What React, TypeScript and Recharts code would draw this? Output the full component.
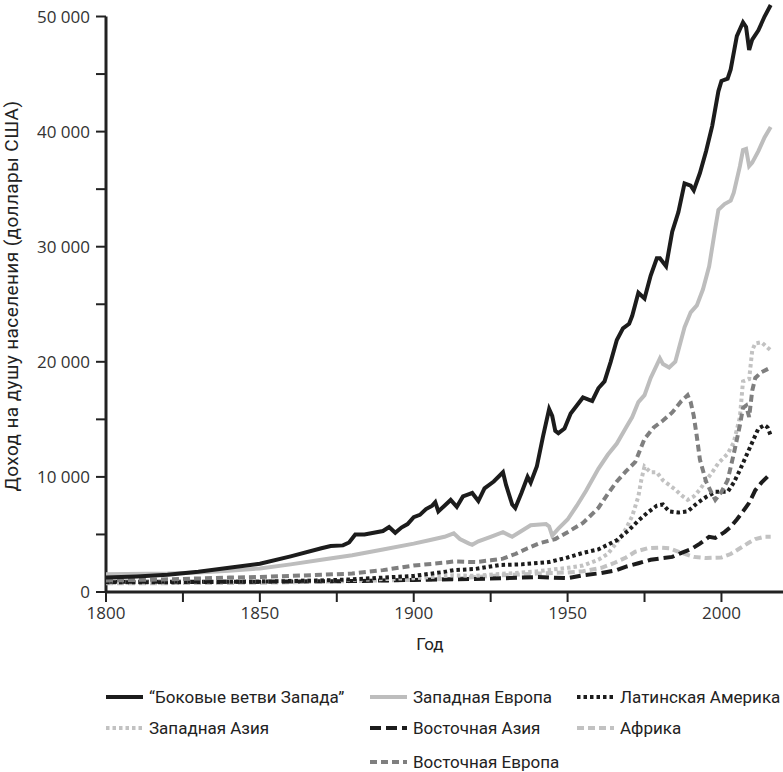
import { LineChart, Line, XAxis, YAxis, ReferenceLine } from "recharts";

type Pair = [number, number];

const offshoots: Pair[] = [
  [1800, 1250], [1810, 1350], [1820, 1500], [1830, 1750], [1840, 2100], [1850, 2450],
  [1860, 3100], [1870, 3800], [1873, 4000], [1877, 4050], [1879, 4300], [1881, 5000],
  [1884, 5000], [1887, 5150], [1890, 5300], [1892, 5650], [1894, 5150], [1896, 5600],
  [1898, 5900], [1900, 6500], [1902, 6700], [1904, 7200], [1906, 7500], [1907, 7800],
  [1908, 7000], [1910, 7500], [1912, 8000], [1914, 7400], [1916, 8300], [1918, 8500],
  [1919, 8600], [1921, 7900], [1923, 9000], [1926, 9600], [1929, 10400], [1930, 9300],
  [1932, 7600], [1933, 7300], [1935, 8600], [1937, 10000], [1938, 9500], [1940, 10900],
  [1942, 13500], [1944, 15900], [1945, 15300], [1946, 14000], [1947, 13800], [1949, 14200],
  [1951, 15500], [1953, 16200], [1955, 16900], [1957, 16700], [1958, 16600], [1960, 17700],
  [1962, 18300], [1964, 20000], [1966, 21900], [1968, 22900], [1970, 23300], [1971, 24000],
  [1973, 26000], [1975, 25500], [1977, 27500], [1979, 29000], [1980, 29000], [1982, 28300],
  [1984, 31300], [1986, 33000], [1988, 35500], [1990, 35300], [1991, 34900], [1993, 36400],
  [1995, 38300], [1997, 40500], [1999, 43500], [2000, 44400], [2002, 44600], [2003, 45400],
  [2005, 48300], [2007, 49500], [2008, 49100], [2009, 47100], [2010, 48000], [2012, 48800],
  [2014, 50000], [2016, 51000],
];

const westernEurope: Pair[] = [
  [1800, 1550], [1820, 1600], [1830, 1700], [1840, 1850], [1850, 2050], [1860, 2400],
  [1870, 2800], [1880, 3200], [1890, 3700], [1900, 4200], [1905, 4500], [1910, 4800],
  [1913, 5100], [1915, 4600], [1918, 4200], [1919, 4100], [1921, 4400], [1925, 4800],
  [1929, 5200], [1932, 4800], [1935, 5300], [1938, 5800], [1943, 5900], [1944, 5700],
  [1945, 4900], [1947, 5500], [1950, 6300], [1953, 7500], [1956, 8800], [1960, 10700],
  [1963, 11900], [1966, 12900], [1969, 14300], [1971, 15200], [1973, 16500], [1975, 17100],
  [1977, 18600], [1980, 20300], [1981, 19800], [1983, 19500], [1985, 20000], [1988, 23000],
  [1990, 24300], [1992, 24900], [1994, 26300], [1996, 28300], [1998, 31600], [1999, 33200],
  [2001, 33700], [2003, 34000], [2004, 34700], [2006, 37000], [2007, 38400], [2008, 38500],
  [2009, 37000], [2010, 37300], [2012, 38300], [2014, 39500], [2016, 40400],
];

const easternEurope: Pair[] = [
  [1800, 1000], [1820, 1100], [1840, 1250], [1850, 1300], [1860, 1400], [1870, 1500],
  [1880, 1600], [1890, 1900], [1900, 2300], [1910, 2550], [1913, 2650], [1920, 2600],
  [1925, 2750], [1929, 2900], [1933, 3300], [1937, 3800], [1941, 4250], [1946, 4600],
  [1950, 5200], [1955, 6000], [1960, 7300], [1963, 8500], [1966, 9600], [1969, 10500],
  [1972, 11300], [1975, 13300], [1978, 14300], [1981, 14900], [1984, 15600], [1987, 16600],
  [1989, 17100], [1990, 16500], [1991, 15300], [1992, 13500], [1993, 11500], [1995, 9600],
  [1997, 8500], [1998, 8000], [2000, 8700], [2002, 9700], [2004, 12000], [2006, 14500],
  [2007, 16000], [2008, 16200], [2009, 15200], [2010, 17500], [2011, 18600], [2013, 19100],
  [2016, 19500],
];

const latinAmerica: Pair[] = [
  [1800, 850], [1820, 850], [1850, 900], [1870, 1000], [1880, 1100], [1890, 1250],
  [1900, 1400], [1910, 1750], [1913, 1900], [1920, 2000], [1928, 2350], [1935, 2400],
  [1944, 2600], [1950, 3000], [1955, 3400], [1960, 3700], [1966, 4500], [1970, 5400],
  [1973, 6200], [1976, 6900], [1979, 7500], [1981, 7600], [1983, 7000], [1986, 6900],
  [1989, 7000], [1992, 7700], [1995, 8250], [1998, 8700], [2002, 8700], [2004, 9500],
  [2006, 10600], [2008, 11800], [2010, 13000], [2012, 14200], [2014, 14500], [2015, 14300],
  [2016, 13600],
];

const westernAsia: Pair[] = [
  [1800, 900], [1850, 950], [1880, 1050], [1900, 1200], [1913, 1450], [1920, 1400],
  [1930, 1600], [1940, 1800], [1950, 2100], [1955, 2300], [1960, 2800], [1963, 3300],
  [1966, 4300], [1969, 5500], [1971, 6600], [1973, 8300], [1974, 9800], [1975, 10900],
  [1977, 10400], [1979, 10400], [1981, 9700], [1983, 9300], [1985, 8900], [1987, 8400],
  [1989, 8000], [1991, 8300], [1993, 8900], [1995, 9700], [1997, 10400], [1999, 11200],
  [2002, 12000], [2004, 13000], [2006, 15200], [2007, 18300], [2009, 18500], [2010, 21000],
  [2011, 21600], [2013, 21700], [2016, 21000],
];

const eastAsia: Pair[] = [
  [1800, 900], [1850, 900], [1880, 950], [1900, 1050], [1913, 1100], [1930, 1200],
  [1940, 1300], [1945, 1250], [1950, 1200], [1955, 1450], [1961, 1650], [1966, 1900],
  [1969, 2200], [1973, 2500], [1977, 2800], [1981, 2950], [1984, 3050], [1987, 3400],
  [1990, 3700], [1993, 4200], [1996, 4800], [1998, 4700], [2001, 5200], [2003, 5650],
  [2005, 6300], [2007, 7000], [2009, 7750], [2011, 8850], [2013, 9500], [2016, 10300],
];

const africa: Pair[] = [
  [1800, 750], [1850, 800], [1880, 950], [1900, 1050], [1913, 1150], [1925, 1400],
  [1940, 1600], [1950, 1700], [1955, 1800], [1961, 2100], [1965, 2500], [1969, 3000],
  [1972, 3500], [1976, 3800], [1980, 3850], [1983, 3800], [1987, 3400], [1991, 3050],
  [1995, 2950], [2000, 3000], [2003, 3300], [2006, 3800], [2009, 4300], [2011, 4600],
  [2014, 4800], [2016, 4800],
];

const xTicks = [1800, 1825, 1850, 1875, 1900, 1925, 1950, 1975, 2000];
const yTicks = [0, 5000, 10000, 15000, 20000, 25000, 30000, 35000, 40000, 45000, 50000];

const FONT = "Roboto, 'Noto Sans', sans-serif";
const TICK_FONT = "'Open Sans', sans-serif";

const series = [
  { name: "Африка", data: africa, color: "#c2c2c2", dash: "7 4" },
  { name: "Восточная Азия", data: eastAsia, color: "#1c1c1c", dash: "11 5" },
  { name: "Западная Азия", data: westernAsia, color: "#c2c2c2", dash: "3.5 3" },
  { name: "Латинская Америка", data: latinAmerica, color: "#1c1c1c", dash: "3.5 3" },
  { name: "Восточная Европа", data: easternEurope, color: "#7f7f7f", dash: "7 4" },
  { name: "Западная Европа", data: westernEurope, color: "#bdbdbd", dash: undefined },
  { name: "“Боковые ветви Запада”", data: offshoots, color: "#1c1c1c", dash: undefined },
];

// legend slots: [series name, left, row centre]
const legendSlots: [string, number, number][] = [
  ["“Боковые ветви Запада”", 106, 697],
  ["Западная Европа", 370, 697],
  ["Латинская Америка", 577, 697],
  ["Западная Азия", 106, 728],
  ["Восточная Азия", 370, 728],
  ["Африка", 577, 728],
  ["Восточная Европа", 370, 762],
];

const toPoints = (pairs: Pair[]) => pairs.map(([year, v]) => ({ year, v }));

const fmtY = (v: number) => (v % 10000 !== 0 ? "" : v === 0 ? "0" : `${v / 1000} 000`);
const fmtX = (v: number) => (v % 50 === 0 ? String(v) : "");

function ChartLegend() {
  return (
    <div style={{ fontFamily: FONT, fontSize: 17, color: "#222" }}>
      {legendSlots.map(([name, left, cy]) => {
        const s = series.find((d) => d.name === name)!;
        return (
          <div
            key={name}
            style={{ position: "absolute", left, top: cy - 11, height: 22, display: "flex", alignItems: "center", whiteSpace: "nowrap" }}
          >
            <svg width={37} height={8} style={{ marginRight: 6 }}>
              <line x1={0} y1={4} x2={37} y2={4} stroke={s.color} strokeWidth={4} strokeDasharray={s.dash} />
            </svg>
            <span>{name}</span>
          </div>
        );
      })}
    </div>
  );
}

export default function App() {
  return (
    <div style={{ position: "absolute", left: 0, top: 0, width: 783, height: 772, background: "#fff" }}>
      <LineChart width={783} height={772} margin={{ top: 5, right: 0, bottom: 120, left: 0 }}>
        <XAxis
          dataKey="year"
          type="number"
          domain={[1800, 2020]}
          ticks={xTicks}
          interval={0}
          tickFormatter={fmtX}
          height={60}
          tickSize={10}
          tickMargin={5}
          axisLine={{ stroke: "#222", strokeWidth: 3 }}
          tickLine={{ stroke: "#222", strokeWidth: 2 }}
          tick={{ fill: "#333", fontSize: 17, fontFamily: TICK_FONT }}
          label={{
            content: () => (
              <text x={430} y={650} textAnchor="middle" fontFamily={FONT} fontSize={17} fill="#222">
                Год
              </text>
            ),
          }}
        />
        <YAxis
          type="number"
          domain={[0, 51000]}
          ticks={yTicks}
          interval={0}
          tickFormatter={fmtY}
          width={106}
          tickSize={10}
          tickMargin={6}
          axisLine={false}
          tickLine={{ stroke: "#222", strokeWidth: 2 }}
          tick={{ fill: "#333", fontSize: 17, fontFamily: TICK_FONT }}
          label={{
            content: () => (
              <text
                x={11}
                y={296}
                transform="rotate(-90 11 296)"
                textAnchor="middle"
                dominantBaseline="central"
                fontFamily={FONT}
                fontSize={19}
                letterSpacing={0.4}
                fill="#222"
              >
                Доход на душу населения (доллары США)
              </text>
            ),
          }}
        />
        <ReferenceLine
          segment={[
            { x: 1800, y: 0 },
            { x: 1800, y: 50000 },
          ]}
          stroke="#222"
          strokeWidth={3}
        />
        {series.map((s) => (
          <Line
            key={s.name}
            name={s.name}
            data={toPoints(s.data)}
            dataKey="v"
            type="linear"
            stroke={s.color}
            strokeWidth={4}
            strokeDasharray={s.dash}
            dot={false}
            activeDot={false}
            isAnimationActive={false}
          />
        ))}
      </LineChart>
      <ChartLegend />
    </div>
  );
}
